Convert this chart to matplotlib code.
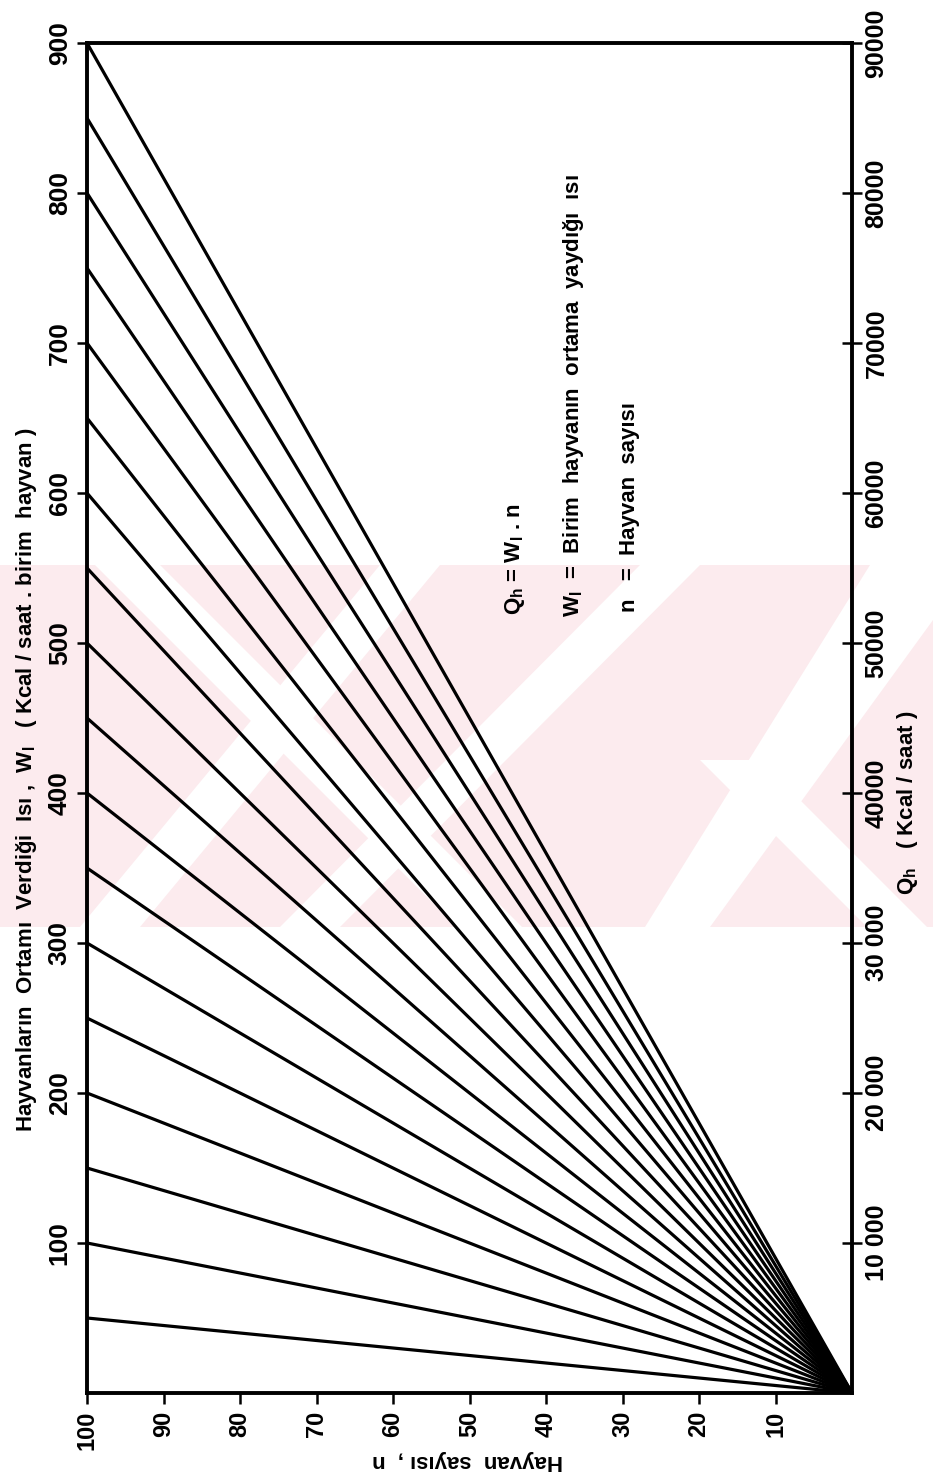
import matplotlib
matplotlib.use("Agg")
import matplotlib.pyplot as plt
from matplotlib.patches import Polygon, Rectangle

plt.rcParams["font.family"] = ["Liberation Sans", "DejaVu Sans"]
plt.rcParams["font.weight"] = "bold"
plt.rcParams["mathtext.fontset"] = "custom"
plt.rcParams["mathtext.rm"] = "Liberation Sans:bold"
plt.rcParams["mathtext.bf"] = "Liberation Sans:bold"
plt.rcParams["mathtext.it"] = "Liberation Sans:bold"

# hayvan basina isi degerleri (her dogru n=100'de bu degere ulasir)
wi_values = [50, 100, 150, 200, 250, 300, 350, 400, 450, 500,
             550, 600, 650, 700, 750, 800, 850, 900]
n_start = 0
n_end = 100

w_ticks = [100, 200, 300, 400, 500, 600, 700, 800, 900]
n_ticks = [100, 90, 80, 70, 60, 50, 40, 30, 20, 10]
q_ticks = [10000, 20000, 30000, 40000, 50000, 60000, 70000, 80000, 90000]
q_labels = ["10 000", "20 000", "30 000", "40000", "50000",
            "60000", "70000", "80000", "90000"]

W, H = 933, 1481
fig = plt.figure(figsize=(W / 100, H / 100), dpi=100)

# soluk pembe filigran (arka plan)
bg = fig.add_axes([0, 0, 1, 1], zorder=0)
bg.set_xlim(0, W)
bg.set_ylim(H, 0)
bg.axis("off")
pink = "#fcebee"
bg.add_patch(Rectangle((0, 565), W, 362, color=pink, lw=0))
white_stripes = [
    [(95, 565), (160, 565), (522, 927), (457, 927)],
    [(380, 565), (440, 565), (140, 927), (80, 927)],
    [(640, 565), (700, 565), (340, 927), (280, 927)],
    [(870, 565), (933, 565), (933, 620), (710, 927), (645, 927)],
    [(700, 760), (760, 760), (927, 927), (867, 927)],
]
for pts in white_stripes:
    bg.add_patch(Polygon(pts, closed=True, color="white", lw=0))

ax = fig.add_axes([87 / W, 1 - 1393 / H, (852 - 87) / W, (1393 - 43) / H], zorder=2)
ax.patch.set_alpha(0)

for w in wi_values:
    ax.plot([n_start, n_end], [0, w], color="black", lw=2.3, solid_capstyle="butt")

ax.set_xlim(100, 0)
ax.set_ylim(0, 900)
for s in ax.spines.values():
    s.set_linewidth(2.8)

ax.set_yticks(w_ticks)
ax.set_yticklabels([str(v) for v in w_ticks], rotation=90, va="center", fontsize=19)
ax.set_xticks(n_ticks)
ax.set_xticklabels([str(v) for v in n_ticks], rotation=90, ha="center", fontsize=17)
ax.tick_params(axis="y", direction="out", length=7, width=1.8, pad=4)
ax.tick_params(axis="x", direction="out", length=8, width=1.8, pad=5)

ax2 = ax.twinx()
ax2.set_ylim(0, 90000)
ax2.set_yticks(q_ticks)
ax2.set_yticklabels(q_labels, rotation=90, va="center", fontsize=18)
ax2.tick_params(axis="y", direction="inout", length=14, width=1.8, pad=2)
for s in ax2.spines.values():
    s.set_visible(False)

# eksen basliklari
fig.text(27 / W, 1 - 780 / H,
         r"Hayvanların  Ortamı  Verdiği  Isı ,  $\mathbf{W_I}$   ( Kcal / saat . birim  hayvan )",
         rotation=90, ha="center", va="center", fontsize=16)
fig.text(468 / W, 1 - 1460 / H, "Hayvan  sayısı ,  n",
         rotation=180, ha="center", va="center", fontsize=16)
fig.text(908 / W, 1 - 803 / H, r"$\mathbf{Q_h}$   ( Kcal / saat )",
         rotation=90, ha="center", va="center", fontsize=16)

# formul aciklamalari
fig.text(515 / W, 1 - 615 / H, r"$\mathbf{Q_h}$ = $\mathbf{W_I}$ . n",
         rotation=90, ha="center", va="bottom", fontsize=16)
fig.text(573 / W, 1 - 617 / H,
         r"$\mathbf{W_I}$  =  Birim  hayvanın  ortama  yaydığı  ısı",
         rotation=90, ha="center", va="bottom", fontsize=16)
fig.text(629 / W, 1 - 612 / H, "n   =  Hayvan  sayısı",
         rotation=90, ha="center", va="bottom", fontsize=16)

fig.savefig("out.png", dpi=100)
